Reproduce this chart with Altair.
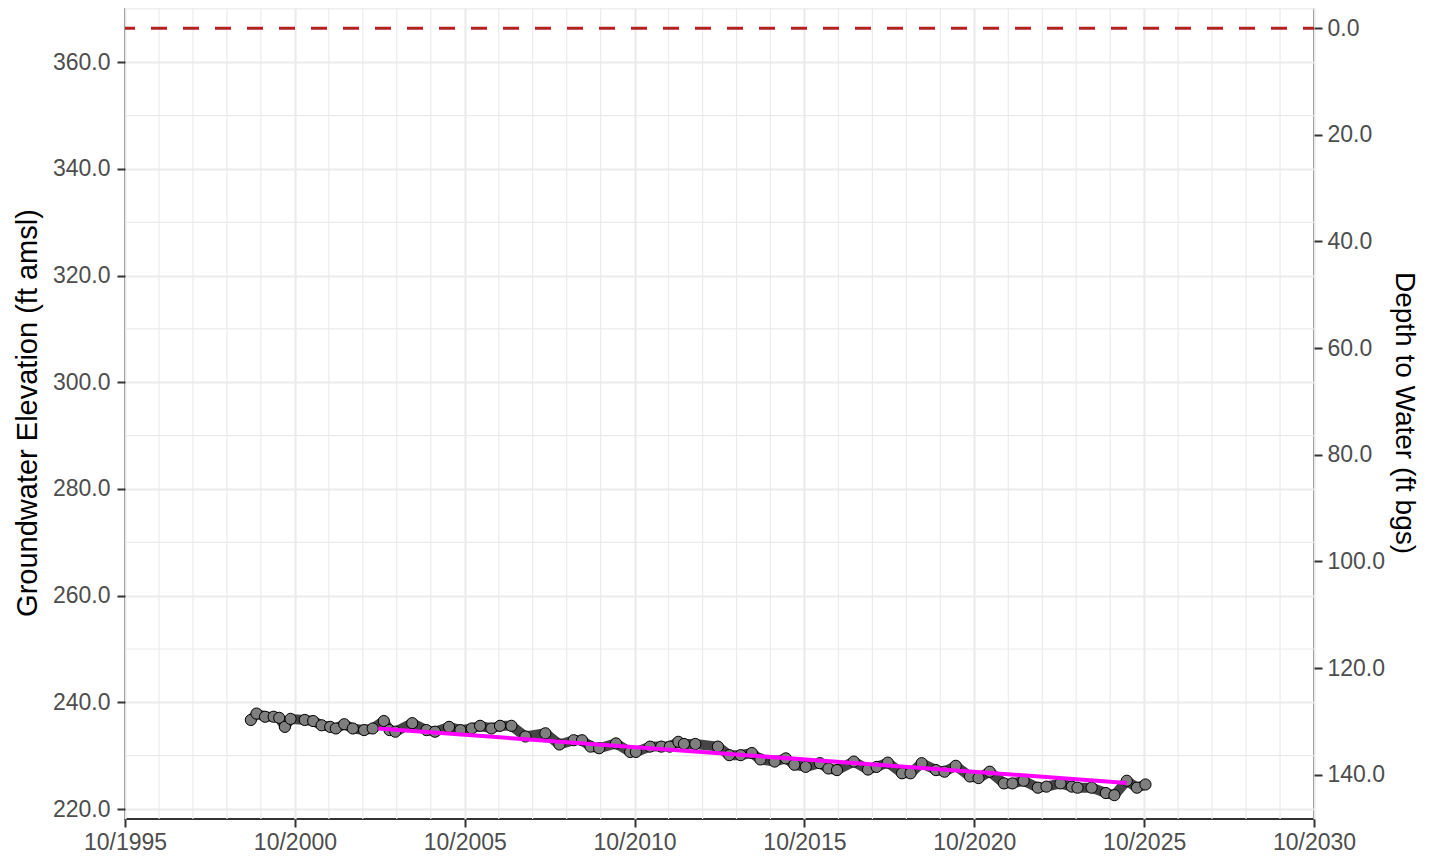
import altair as alt
import pandas as pd

# ---- observed groundwater elevations (ft amsl) ----
obs_dates = [
    "1999-06-15", "1999-08-15", "1999-11-15", "2000-02-15", "2000-04-15", "2000-06-15",
    "2000-08-15", "2001-01-15", "2001-04-15", "2001-07-15", "2001-10-15", "2001-12-15",
    "2002-03-15", "2002-06-15", "2002-10-15", "2003-01-15", "2003-05-15", "2003-07-15",
    "2003-09-15", "2004-03-15", "2004-08-15", "2004-11-15", "2005-04-15", "2005-08-15",
    "2005-12-15", "2006-03-15", "2006-07-15", "2006-10-15", "2007-02-15", "2007-07-15",
    "2008-02-15", "2008-07-15", "2008-12-15", "2009-03-15", "2009-06-15", "2009-09-15",
    "2010-03-15", "2010-08-15", "2010-10-15", "2011-03-15", "2011-07-15", "2011-10-15",
    "2012-01-15", "2012-03-15", "2012-07-15", "2013-03-15", "2013-07-15", "2013-11-15",
    "2014-03-15", "2014-06-15", "2014-11-15", "2015-03-15", "2015-06-15", "2015-10-15",
    "2016-03-15", "2016-06-15", "2016-09-15", "2017-03-15", "2017-08-15", "2017-11-15",
    "2018-03-15", "2018-08-15", "2018-11-15", "2019-03-15", "2019-08-15", "2019-11-15",
    "2020-03-15", "2020-08-15", "2020-11-15", "2021-03-15", "2021-08-15", "2021-11-15",
    "2022-03-15", "2022-08-15", "2022-11-15", "2023-04-15", "2023-08-15", "2023-10-15",
    "2024-03-15", "2024-08-15", "2024-11-15", "2025-03-28", "2025-07-15", "2025-10-15",
]
obs_elev = [
    236.7, 237.9, 237.3, 237.3, 237.1, 235.4,
    236.9, 236.7, 236.5, 235.7, 235.4, 235.1,
    235.9, 235.1, 234.8, 235.1, 236.5, 234.8,
    234.5, 236.1, 234.8, 234.5, 235.4, 234.8,
    235.1, 235.6, 235.1, 235.6, 235.6, 233.6,
    234.2, 232.1, 232.9, 232.9, 231.7, 231.4,
    232.3, 230.7, 230.7, 231.7, 231.7, 231.7,
    232.6, 232.2, 232.2, 231.7, 230.1, 230.1,
    230.5, 229.3, 228.9, 229.5, 228.3, 227.9,
    228.6, 227.6, 227.3, 228.9, 227.4, 227.9,
    228.7, 226.7, 226.7, 228.6, 227.3, 227.0,
    228.1, 226.1, 225.8, 227.0, 224.8, 224.8,
    225.3, 224.0, 224.2, 224.8, 224.2, 224.0,
    224.0, 223.0, 222.6, 225.3, 224.0, 224.6,
]

# ---- linear trend ----
trend_dates = ["2003-03-15", "2025-03-28"]
trend_elev = [235.1, 224.9]

# ---- ground surface (depth to water = 0) ----
ground_depth = [0.0]

# ---- axes / grid values ----
major_years = [1995, 2000, 2005, 2010, 2015, 2020, 2025, 2030]
minor_years = [y for y in range(1996, 2030) if y % 5 != 0]
elev_ticks = [220, 240, 260, 280, 300, 320, 340, 360]
elev_minor = [230, 250, 270, 290, 310, 330, 350, 370]
depth_ticks = [0, 20, 40, 60, 80, 100, 120, 140]

elev_domain = [218.13, 370.55]
depth_domain = [-4.15, 148.3]

obs = pd.DataFrame({"date": pd.to_datetime(obs_dates), "elev": obs_elev})
trend = pd.DataFrame({"date": pd.to_datetime(trend_dates), "elev": trend_elev})
vgrid_df = pd.DataFrame({"date": pd.to_datetime([f"{y}-10-01" for y in minor_years])})
hgrid_df = pd.DataFrame({"elev": elev_minor})
ground_df = pd.DataFrame({"depth": ground_depth})

FONT = "Liberation Sans"
GRID = "#EBEBEB"

x_scale = alt.Scale(
    domain=[alt.DateTime(year=1995, month=10, date=1), alt.DateTime(year=2030, month=10, date=1)],
    nice=False,
)
x_axis = alt.Axis(
    values=[alt.DateTime(year=y, month=10, date=1) for y in major_years],
    format="%m/%Y",
    title=None,
    grid=True,
    gridColor=GRID,
    gridWidth=2.2,
    labelFlush=False,
    labelOverlap=False,
    labelPadding=4,
)
x_enc = alt.X("date:T", scale=x_scale, axis=x_axis)

y_scale = alt.Scale(domain=elev_domain, nice=False, zero=False)
y_axis = alt.Axis(
    values=elev_ticks,
    format=".1f",
    title="Groundwater Elevation (ft amsl)",
    grid=True,
    gridColor=GRID,
    gridWidth=2.2,
    labelPadding=7,
    titlePadding=10,
)
y_enc = alt.Y("elev:Q", scale=y_scale, axis=y_axis)

vgrid = alt.Chart(vgrid_df).mark_rule(color=GRID, strokeWidth=1.2).encode(x=x_enc)
hgrid = alt.Chart(hgrid_df).mark_rule(color=GRID, strokeWidth=1.2).encode(y=y_enc)

band = alt.Chart(obs).mark_line(color="#454545", strokeWidth=10, strokeJoin="round", strokeCap="round").encode(
    x=x_enc, y=y_enc, order="date:T"
)
points = alt.Chart(obs).mark_circle(
    size=125, color="#7F7F7F", stroke="#000000", strokeWidth=1, opacity=1
).encode(x=x_enc, y=y_enc)
trend_line = alt.Chart(trend).mark_line(color="#FF00FF", strokeWidth=4).encode(x=x_enc, y=y_enc)

left = alt.layer(vgrid, hgrid, band, points, trend_line)

ground = alt.Chart(ground_df).mark_rule(
    color="#B22222", strokeWidth=3, strokeDash=[16, 16], strokeDashOffset=5
).encode(
    y=alt.Y(
        "depth:Q",
        scale=alt.Scale(domain=depth_domain, reverse=True, nice=False, zero=False),
        axis=alt.Axis(
            orient="right",
            values=depth_ticks,
            format=".1f",
            title="Depth to Water (ft bgs)",
            titleFontSize=28,
            grid=False,
            labelPadding=5,
            titlePadding=5,
        ),
    )
)

chart = (
    alt.layer(left, ground)
    .resolve_scale(y="independent")
    .properties(
        width=1189,
        height=813,
        autosize=alt.AutoSizeParams(type="none"),
        padding={"left": 117, "top": -2, "right": 108, "bottom": 42},
        background="white",
    )
    .configure_view(stroke="#333333", strokeWidth=2)
    .configure_axis(
        labelFont=FONT,
        titleFont=FONT,
        labelFontSize=23,
        titleFontSize=29,
        labelColor="#4D4D4D",
        titleColor="#000000",
        titleFontWeight="normal",
        tickColor="#333333",
        tickSize=8,
        tickWidth=2,
        domain=False,
    )
)

chart.save("out.html", embed_options={"renderer": "svg", "actions": False})
